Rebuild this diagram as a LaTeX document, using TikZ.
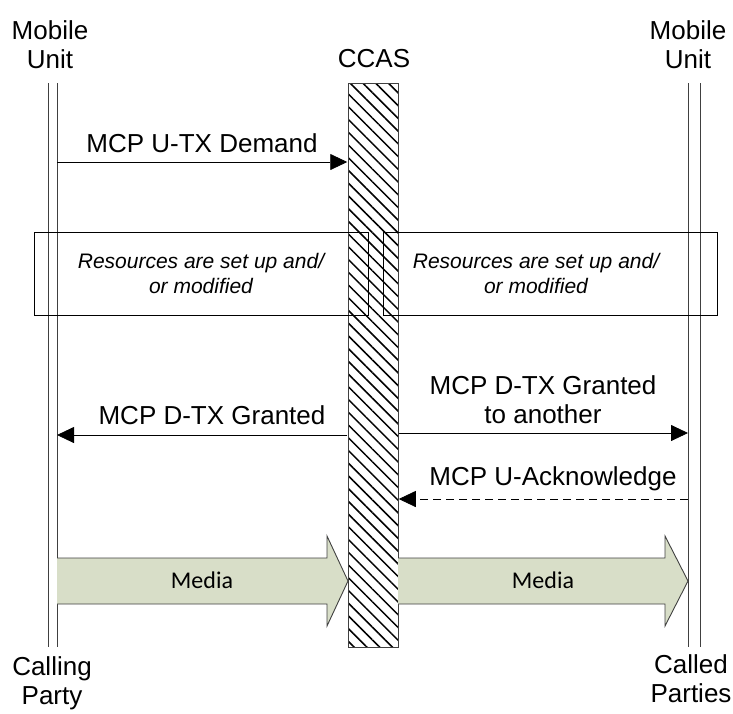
\documentclass[tikz,border=0pt]{standalone}
\usepackage{fontspec}
\setmainfont{Liberation Sans}
\newfontfamily\mediafont{Carlito}
\usetikzlibrary{arrows.meta,patterns.meta}
\definecolor{mediafill}{HTML}{D8DEC8}
\definecolor{linegray}{HTML}{404040}
\begin{document}
\begin{tikzpicture}[x=1pt,y=-1pt,
  lbl/.style={font=\fontsize{26}{29}\selectfont, align=center, inner sep=0pt, anchor=base},
  boxtxt/.style={font=\fontsize{21}{25}\selectfont\itshape, align=center, inner sep=0pt, anchor=base},
  medialbl/.style={font=\mediafont\fontsize{24}{28}\selectfont, inner sep=0pt, anchor=base},
  lifeline/.style={draw=linegray, line width=0.9pt},
  msg/.style={-{Triangle[length=17pt,width=16pt]}, line width=0.8pt},
  dmsg/.style={msg, dash pattern=on 8pt off 5pt},
  procbox/.style={draw=black, line width=0.8pt, inner sep=0pt, minimum width=334pt, minimum height=83pt},
  mediaarrow/.style={fill=mediafill, draw=linegray, line width=0.9pt, line join=miter}]
\useasboundingbox (0,0) rectangle (733,713);

% lifelines
\coordinate (LLa) at (48,83);  \coordinate (LLb) at (48,647);
\coordinate (LRa) at (57,83);  \coordinate (LRb) at (57,647);
\coordinate (RLa) at (688,83); \coordinate (RLb) at (688,647);
\coordinate (RRa) at (700,83); \coordinate (RRb) at (700,647);
\draw[lifeline] (LLa) -- (LLb);
\draw[lifeline] (LRa) -- (LRb);
\draw[lifeline] (RLa) -- (RLb);
\draw[lifeline] (RRa) -- (RRb);

% CCAS bar
\node[draw=linegray, line width=0.9pt, inner sep=0pt, minimum width=50pt, minimum height=564pt,
  pattern={Lines[angle=-45,distance=9pt,line width=1.5pt]}] (ccas) at (373,365) {};

% headings
\node[lbl] (mu1) at (50,68) {Mobile\\Unit};
\node[lbl] (ccaslbl) at (374,67) {CCAS};
\node[lbl] (mu2) at (688,68) {Mobile\\Unit};
\node[lbl] (cp) at (52,704) {Calling\\Party};
\node[lbl] (cdp) at (691,702) {Called\\Parties};

% MCP U-TX Demand
\coordinate (d1) at (57,162);
\draw[msg] (d1) -- (d1 -| ccas.west);
\node[lbl] (dlbl) at (202,152) {MCP U-TX Demand};

% resource boxes
\node[procbox] (box1) at (201,273.5) {};
\node[procbox] (box2) at (550,273.5) {};
\node[boxtxt] (b1t) at (201,293) {Resources are set up and/\\or modified};
\node[boxtxt] (b2t) at (536,293) {Resources are set up and/\\or modified};

% D-TX Granted
\coordinate (g1) at (57,435);
\draw[msg] (g1 -| ccas.west) -- (g1);
\node[lbl] (glbl) at (212,424) {MCP D-TX Granted};

\coordinate (g2) at (688,433);
\draw[msg] (g2 -| ccas.east) -- (g2);
\node[lbl] (g2lbl) at (543,423) {MCP D-TX Granted\\to another};

% U-Acknowledge
\coordinate (a1) at (688,499);
\draw[dmsg] (a1) -- (a1 -| ccas.east);
\node[lbl] (albl) at (553,485) {MCP U-Acknowledge};

% Media arrows
\draw[mediaarrow] (57,558) -- (327,558) -- (327,536) -- (348,581) -- (327,626) -- (327,604) -- (57,604);
\node[medialbl] (m1) at (202,588) {Media};
\draw[mediaarrow] (398,558) -- (665,558) -- (665,536) -- (688,581) -- (665,626) -- (665,604) -- (398,604);
\node[medialbl] (m2) at (543,588) {Media};
\end{tikzpicture}
\end{document}
